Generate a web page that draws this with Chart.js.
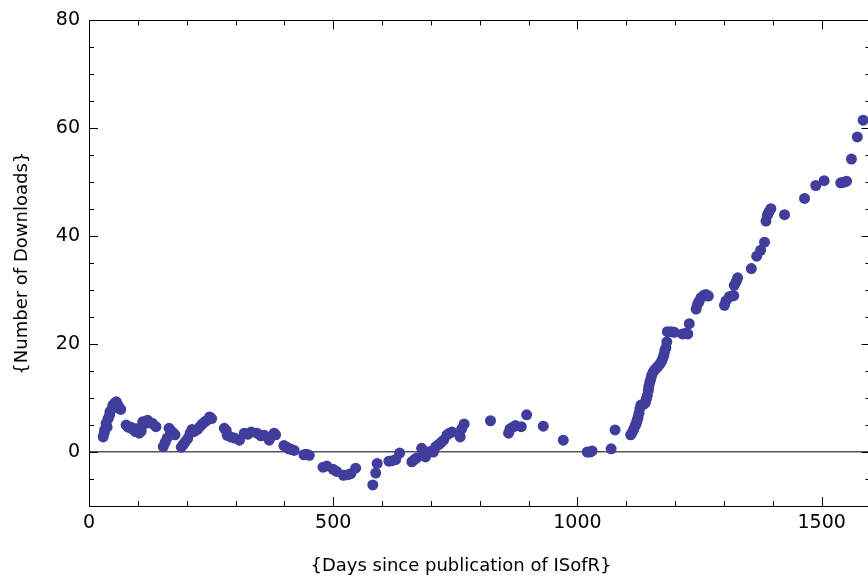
<!DOCTYPE html>
<html><head><meta charset="utf-8">
<script src="https://cdn.jsdelivr.net/npm/chart.js@4"></script>
<style>html,body{margin:0;padding:0;overflow:hidden;background:#fff}#wrap{width:876px;height:578px}</style>
</head><body><div id="wrap"><canvas id="c" width="876" height="578"></canvas></div>
<script>
const days = [29,31,32,35,37,39,42,43,47,49,53,56,60,62,65,
 76,80,86,90,95,97,103,107,110,115,120,125,130,137,
 152,156,160,164,167,172,176,
 189,193,197,202,207,211,215,222,228,232,237,242,247,251,
 277,281,283,290,298,308,318,325,332,344,352,359,369,379,382,
 399,405,409,414,420,440,445,451,
 479,487,500,507,521,530,536,546,
 581,587,590,614,621,628,636,
 661,666,671,681,684,689,698,705,710,716,721,726,733,738,743,760,763,768,
 822,859,862,868,873,885,896,930,971,1020,1026,1030,1069,1077,
 1109,1112,1115,1118,1120,1122,1124,1126,1128,1130,1136,1139,1141,1143,1145,1146,1148,1150,1152,1155,1158,1162,1165,1169,1172,1175,1177,1179,1181,1183,1184,1192,1198,1215,1222,1226,1229,1243,1246,1249,1253,1258,1263,1268,
 1301,1304,1311,1316,1320,1321,1325,1328,
 1356,1367,1375,1383,1386,1389,1392,1396,
 1424,1465,1488,1505,1539,1545,1551,1561,1573,1585];
const downloads = [2.8,3.5,4.1,5.3,4.6,6.2,6.8,7.5,8.0,8.7,9.1,9.3,8.6,8.1,7.9,
 5.0,4.6,4.6,4.2,3.8,4.3,3.5,3.9,5.6,5.3,5.9,5.4,5.3,4.7,
 1.0,1.8,2.6,4.4,4.0,3.6,3.2,
 0.9,1.4,1.9,2.5,3.5,4.2,3.8,4.2,4.8,5.2,5.6,5.9,6.5,6.2,
 4.4,4.0,3.1,2.8,2.6,2.2,3.5,3.3,3.7,3.5,3.0,3.1,2.2,3.5,3.2,
 1.2,0.9,0.6,0.5,0.3,-0.5,-0.4,-0.6,
 -2.8,-2.6,-3.2,-3.6,-4.3,-4.2,-4.0,-3.0,
 -6.1,-3.9,-2.1,-1.7,-1.6,-1.4,-0.2,
 -1.8,-1.4,-1.1,0.7,0.2,-0.9,0.1,0.0,1.0,1.4,1.8,2.2,3.2,3.5,3.7,2.8,4.3,5.2,
 5.8,3.5,4.3,4.6,4.9,4.7,6.9,4.8,2.2,0.0,0.0,0.2,0.6,4.1,
 3.2,3.6,4.2,4.8,5.2,5.8,6.4,7.2,8.1,8.7,8.9,9.1,9.8,10.5,11.4,12.1,12.9,13.5,14.2,14.8,15.2,15.6,15.9,16.3,16.8,17.4,18.0,18.8,19.3,20.4,22.3,22.3,22.2,21.9,22.0,21.9,23.8,26.5,27.4,27.9,28.6,29.0,29.2,28.9,
 27.2,28.0,28.8,28.9,29.0,30.9,31.6,32.3,
 34.0,36.3,37.4,38.9,42.8,43.9,44.5,45.1,
 44.0,47.0,49.4,50.3,49.9,50.0,50.2,54.3,58.4,61.5];
const xTickValues = [0,500,1000,1500];
const yTickValues = [0,20,40,60,80];
const xTitle = '{Days since publication of ISofR}';
const yTitle = '{Number of Downloads}';

const points = days.map((d,i)=>({x:d,y:downloads[i]}));
const tickFont = {family:'DejaVu Sans', size:19};

const framePlugin = {
  id:'frame',
  afterDatasetsDraw(chart){
    const {ctx, chartArea:a, scales:{x,y}} = chart;
    ctx.save();
    ctx.strokeStyle = '#000'; ctx.lineWidth = 1;
    ctx.beginPath();
    ctx.rect(Math.round(a.left)+0.5, Math.round(a.top)+0.5, Math.round(a.right-a.left), Math.round(a.bottom-a.top));
    ctx.stroke();
    ctx.beginPath();
    for(let v=0; v<=1600; v+=100){
      const px = Math.round(x.getPixelForValue(v))+0.5;
      const len = v%500===0 ? 9 : 5;
      ctx.moveTo(px,a.bottom); ctx.lineTo(px,a.bottom-len);
      ctx.moveTo(px,a.top); ctx.lineTo(px,a.top+len);
    }
    for(let v=-10; v<=80; v+=5){
      const py = Math.round(y.getPixelForValue(v))+0.5;
      const len = v%20===0 ? 9 : 5;
      ctx.moveTo(a.left,py); ctx.lineTo(a.left+len,py);
      ctx.moveTo(a.right,py); ctx.lineTo(a.right-len,py);
    }
    ctx.stroke();
    ctx.fillStyle = '#000';
    ctx.font = '18px "DejaVu Sans"';
    ctx.textAlign='center'; ctx.textBaseline='middle';
    ctx.fillText(xTitle, 461, 566);
    ctx.translate(22, (a.top+a.bottom)/2);
    ctx.rotate(-Math.PI/2);
    ctx.fillText(yTitle, 0, 0);
    ctx.restore();
  }
};

new Chart(document.getElementById('c'), {
  type:'scatter',
  data:{datasets:[{data:points, backgroundColor:'#403d9c', borderColor:'#403d9c', borderWidth:0, pointRadius:5.5, pointHoverRadius:5.5}]},
  options:{
    responsive:false, animation:false, events:[],
    layout:{padding:{left:0, top:20, right:2.6, bottom:0}},
    plugins:{legend:{display:false}, tooltip:{enabled:false}},
    scales:{
      x:{type:'linear', min:0, max:1600,
        afterBuildTicks(s){ s.ticks = xTickValues.map(v=>({value:v})); },
        afterFit(s){ s.height = 72; },
        grid:{display:false, drawTicks:false}, border:{display:false},
        ticks:{font:tickFont, color:'#000', padding:6, maxRotation:0, callback:v=>String(v)}},
      y:{type:'linear', min:-10, max:80,
        afterBuildTicks(s){ s.ticks = yTickValues.map(v=>({value:v})); },
        afterFit(s){ s.width = 89; },
        grid:{drawTicks:false, lineWidth:1.5, color:c=> (c.tick && c.tick.value===0) ? '#555' : 'rgba(0,0,0,0)'},
        border:{display:false},
        ticks:{font:tickFont, color:'#000', padding:9, callback:v=>String(v)}}
    }
  },
  plugins:[framePlugin]
});
</script></body></html>
